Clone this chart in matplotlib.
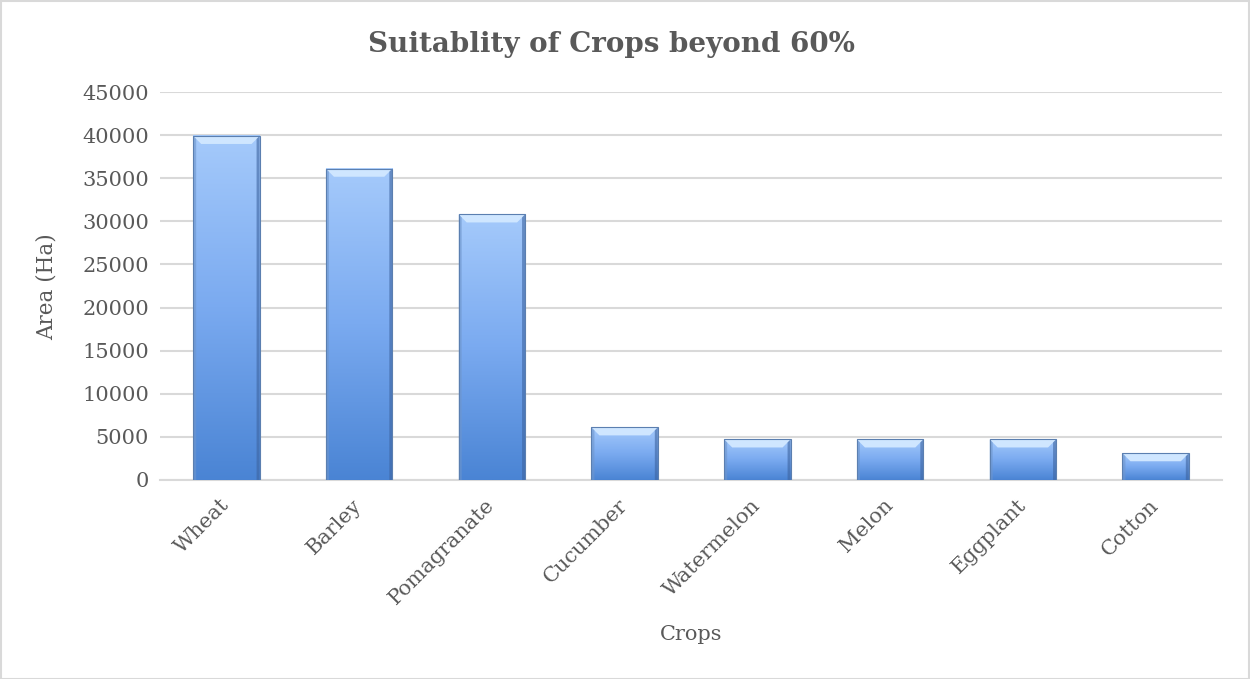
import numpy as np
import matplotlib
matplotlib.use("Agg")
import matplotlib.pyplot as plt
from matplotlib.patches import Rectangle, Polygon
from matplotlib.colors import LinearSegmentedColormap

crops = ["Wheat", "Barley", "Pomagranate", "Cucumber", "Watermelon", "Melon", "Eggplant", "Cotton"]
area = [39900, 36100, 30800, 6100, 4700, 4700, 4700, 3100]
yticks = [0, 5000, 10000, 15000, 20000, 25000, 30000, 35000, 40000, 45000]

title = "Suitablity of Crops beyond 60%"
xlabel = "Crops"
ylabel = "Area (Ha)"

txt = "#595959"
font = "DejaVu Serif"

fig = plt.figure(figsize=(12.5, 6.79), dpi=100)
ax = fig.add_axes([0.128, 0.2931, 0.8496, 0.5714])

x = np.arange(len(crops))
bars = ax.bar(x, area, width=0.5, facecolor="none", edgecolor="none", zorder=3)

ax.set_xlim(-0.5, len(crops) - 0.5)
ax.set_ylim(0, 45000)
ax.set_yticks(yticks)
ax.set_yticklabels([str(v) for v in yticks], fontsize=15, color=txt, family=font)
ax.set_xticks(x)
ax.set_xticklabels(crops, rotation=45, ha="right", va="center", rotation_mode="anchor",
                   fontsize=15, color=txt, family=font)
ax.tick_params(axis="x", length=0, pad=16)
ax.tick_params(axis="y", length=0, pad=8)
for s in ["top", "right", "left"]:
    ax.spines[s].set_visible(False)
ax.spines["bottom"].set_color("#d9d9d9")
ax.spines["bottom"].set_linewidth(1.5)
ax.grid(axis="y", color="#d9d9d9", linewidth=1.5, zorder=0)
ax.set_axisbelow(True)

cmap = LinearSegmentedColormap.from_list("g", ["#4a84d4", "#7aaaf0", "#a5cafb"])
grad = np.linspace(0, 1, 256).reshape(-1, 1)

fig.canvas.draw()
inv = ax.transData.inverted()
p0 = inv.transform((0, 0))
p1 = inv.transform((1, 1))
dxp = p1[0] - p0[0]
dyp = p1[1] - p0[1]

for b in bars:
    bx, bw, bh = b.get_x(), b.get_width(), b.get_height()
    ax.imshow(grad, extent=[bx, bx + bw, 0, bh], origin="lower", cmap=cmap,
              aspect="auto", zorder=3, interpolation="bilinear")
    bev = 8
    ax.add_patch(Polygon([[bx, bh], [bx + bw, bh], [bx + bw - bev * dxp, bh - bev * dyp],
                          [bx + bev * dxp, bh - bev * dyp]], closed=True,
                         facecolor="#cfe6ff", edgecolor="none", zorder=4))
    sb = 3
    ax.add_patch(Polygon([[bx, 0], [bx, bh], [bx + sb * dxp, bh - sb * dyp], [bx + sb * dxp, 0]],
                         closed=True, facecolor="#6f96cc", edgecolor="none", alpha=0.6, zorder=4))
    ax.add_patch(Polygon([[bx + bw, 0], [bx + bw, bh], [bx + bw - sb * dxp, bh - sb * dyp],
                          [bx + bw - sb * dxp, 0]],
                         closed=True, facecolor="#3d64a0", edgecolor="none", alpha=0.6, zorder=4))
    ax.add_patch(Rectangle((bx, 0), bw, bh, facecolor="none", edgecolor="#5b7fb0",
                           linewidth=0.8, zorder=5))

ax.set_xlabel(xlabel, fontsize=15, color=txt, family=font)
ax.xaxis.set_label_coords(691 / 1250, 1 - 635 / 679, transform=fig.transFigure)
ax.xaxis.label.set_va("center")
ax.set_ylabel(ylabel, fontsize=15.5, color=txt, family=font)
ax.yaxis.set_label_coords(47 / 1250, 1 - 287 / 679, transform=fig.transFigure)
ax.yaxis.label.set_va("center")

fig.text(611 / 1250, 1 - 45 / 679, title, ha="center", va="center", fontsize=20,
         fontweight="bold", color=txt, family=font)

fig.patches.append(Rectangle((0.5 / 1250, 0.5 / 679), 1 - 1.5 / 1250, 1 - 1.5 / 679,
                             transform=fig.transFigure, facecolor="none",
                             edgecolor="#d9d9d9", linewidth=1.5))

fig.savefig("out.png", dpi=100, facecolor="white")
